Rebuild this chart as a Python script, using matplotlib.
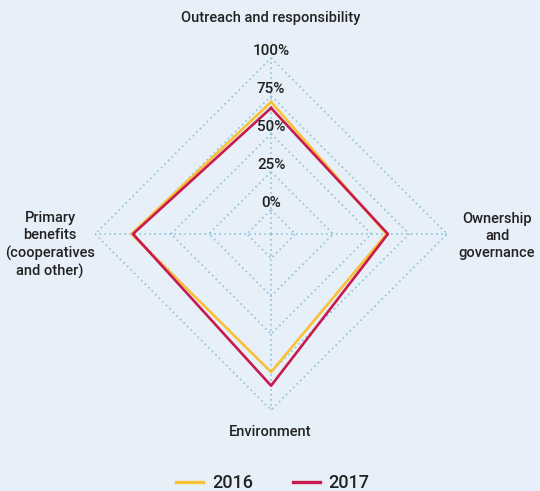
import numpy as np
import matplotlib
matplotlib.use("Agg")
import matplotlib.pyplot as plt
from matplotlib.lines import Line2D

categories = ["Outreach and responsibility", "Ownership\nand\ngovernance",
              "Environment", "Primary\nbenefits\n(cooperatives\nand other)"]
series_2016 = [71, 60, 75, 76]
series_2017 = [67, 61, 84, 75]
tick_values = [0, 25, 50, 75, 100]
tick_labels = ["0%", "25%", "50%", "75%", "100%"]

BG = "#E7F0F8"
GRID = "#8FC3D8"
C2016 = "#F9C13A"
C2017 = "#C81A4E"
TXT = "#222222"
FONT = ["Roboto", "DejaVu Sans"]
WEIGHT = "medium"

fig = plt.figure(figsize=(5.4, 4.91), dpi=100, facecolor=BG)
ax = fig.add_axes([0.176, 0.165, 0.652, 0.717], projection="polar")
ax.set_facecolor(BG)
ax.set_theta_offset(np.pi / 2)
ax.set_theta_direction(-1)
rmin = -16
ax.set_ylim(rmin, 100)

n = len(categories)
angles = np.linspace(0, 2 * np.pi, n, endpoint=False)
closed = np.append(angles, angles[0])

# polygonal grid rings and spokes
for v in tick_values:
    ax.plot(closed, [v] * (n + 1), color=GRID, lw=1.2, ls=(0, (1, 2.0)),
            zorder=1, clip_on=False)
for a in angles:
    ax.plot([a, a], [rmin, 100], color=GRID, lw=1.2, ls=(0, (1, 2.0)),
            zorder=1, clip_on=False)

ax.plot(closed, series_2016 + series_2016[:1], color=C2016, lw=1.9, zorder=3,
        label="2016")
ax.plot(closed, series_2017 + series_2017[:1], color=C2017, lw=1.9, zorder=4,
        label="2017")

ax.grid(False)
ax.spines["polar"].set_visible(False)
ax.set_xticks([])
ax.set_yticks([])

for v, lab in zip(tick_values, tick_labels):
    ax.annotate(lab, xy=(0, v), xytext=(0, 7), textcoords="offset pixels",
                ha="center", va="center", fontsize=11, color=TXT,
                family=FONT, weight=WEIGHT, zorder=5)

kw = dict(ha="center", va="center", fontsize=10.5, color=TXT, family=FONT,
          weight=WEIGHT, linespacing=1.3)
fig.text(271 / 540, 1 - 18 / 491, categories[0], **kw)
fig.text(497 / 540, 1 - 236 / 491, categories[1], **kw)
fig.text(270 / 540, 1 - 432 / 491, categories[2], **kw)
fig.text(50 / 540, 1 - 245 / 491, categories[3], **kw)

handles = [Line2D([], [], color=C2016, lw=2.4), Line2D([], [], color=C2017, lw=2.4)]
fig.legend(handles, ["2016", "2017"], loc="center",
           bbox_to_anchor=(0.505, 1 - 483 / 491), ncol=2, frameon=False,
           prop={"family": FONT, "size": 13, "weight": WEIGHT}, labelcolor=TXT,
           handlelength=1.5, handletextpad=0.5, columnspacing=2.2)

fig.savefig("out.png", dpi=100, facecolor=BG)
